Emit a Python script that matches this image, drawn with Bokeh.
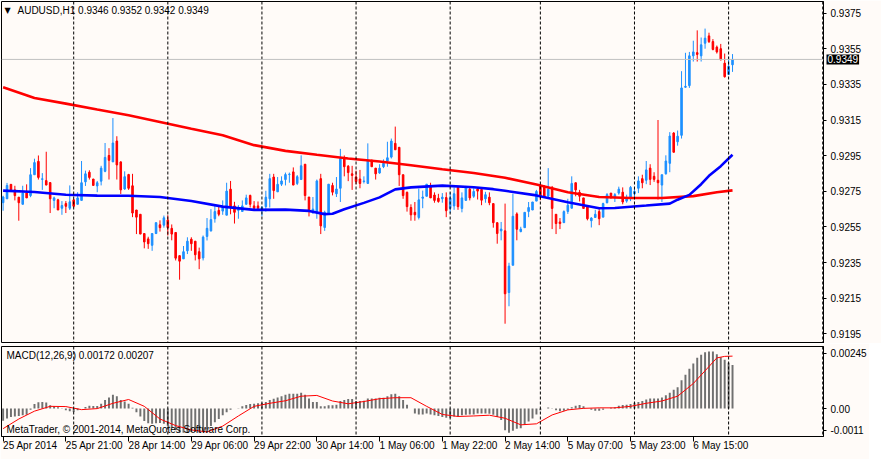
from bokeh.plotting import figure
from bokeh.models import Range1d, FixedTicker, Span, Label, ColumnDataSource, NumeralTickFormatter
from bokeh.layouts import column
from bokeh.embed import file_html
from bokeh.resources import INLINE

# ---------------- data ----------------
symbol = "AUDUSD,H1"
macd_name = "MACD(12,26,9)"
copyright_text = "MetaTrader, \u00a9 2001-2014, MetaQuotes Software Corp."

opens = [0.92686,0.92708,0.92789,0.92758,0.92717,0.92677,0.92740,0.92726,0.92843,0.92918,
         0.92817,0.92810,0.92799,0.92699,0.92702,0.92655,0.92681,0.92655,0.92702,0.92677,
         0.92699,0.92803,0.92857,0.92819,0.92780,0.92807,0.92862,0.92951,0.92915,0.93032,
         0.92915,0.92763,0.92844,0.92781,0.92645,0.92621,0.92513,0.92483,0.92447,0.92513,
         0.92562,0.92560,0.92589,0.92542,0.92519,0.92389,0.92371,0.92416,0.92481,0.92470,
         0.92411,0.92376,0.92497,0.92528,0.92596,0.92643,0.92639,0.92616,0.92762,0.92668,
         0.92643,0.92637,0.92677,0.92727,0.92668,0.92668,0.92646,0.92664,0.92708,0.92830,
         0.92747,0.92790,0.92816,0.92844,0.92859,0.92794,0.92816,0.92902,0.92718,0.92639,
         0.92628,0.92821,0.92547,0.92623,0.92783,0.92736,0.92767,0.92933,0.92891,0.92848,
         0.92830,0.92819,0.92805,0.92794,0.92925,0.92880,0.92853,0.92888,0.92920,0.92942,
         0.93019,0.92997,0.92843,0.92744,0.92659,0.92632,0.92603,0.92711,0.92722,0.92776,
         0.92729,0.92711,0.92708,0.92715,0.92654,0.92668,0.92772,0.92654,0.92699,0.92762,
         0.92722,0.92763,0.92760,0.92708,0.92717,0.92681,0.92574,0.92528,0.92528,0.92182,
         0.92335,0.92623,0.92524,0.92546,0.92637,0.92645,0.92695,0.92785,0.92776,0.92722,
         0.92772,0.92621,0.92578,0.92574,0.92637,0.92655,0.92798,0.92744,0.92713,0.92663,
         0.92585,0.92603,0.92636,0.92605,0.92686,0.92740,0.92713,0.92740,0.92745,0.92695,
         0.92717,0.92736,0.92767,0.92821,0.92812,0.92880,0.92834,0.92812,0.92785,0.92848,
         0.92907,0.93077,0.93028,0.93064,0.93334,0.93343,0.93510,0.93528,0.93510,0.93581,
         0.93622,0.93590,0.93559,0.93550,0.93469,0.93406,0.93460]
highs = [0.92725,0.92797,0.92789,0.92781,0.92717,0.92781,0.92789,0.92880,0.92933,0.92951,
         0.92852,0.92972,0.92799,0.92720,0.92708,0.92695,0.92695,0.92783,0.92706,0.92745,
         0.92920,0.92866,0.92868,0.92819,0.92808,0.92893,0.93021,0.92992,0.93161,0.93059,
         0.92918,0.92862,0.92848,0.92848,0.92645,0.92621,0.92513,0.92495,0.92513,0.92574,
         0.92587,0.92614,0.92616,0.92564,0.92519,0.92389,0.92443,0.92492,0.92492,0.92470,
         0.92434,0.92502,0.92600,0.92650,0.92673,0.92666,0.92699,0.92798,0.92808,0.92691,
         0.92672,0.92699,0.92731,0.92731,0.92695,0.92693,0.92668,0.92753,0.92848,0.92848,
         0.92830,0.92834,0.92855,0.92855,0.92884,0.92841,0.92952,0.92902,0.92718,0.92718,
         0.92816,0.92848,0.92641,0.92790,0.92798,0.92830,0.92988,0.92951,0.92897,0.92893,
         0.92866,0.92870,0.92834,0.93019,0.92925,0.92880,0.92902,0.92929,0.93028,0.93046,
         0.93113,0.92997,0.92843,0.92749,0.92677,0.92690,0.92765,0.92754,0.92790,0.92798,
         0.92744,0.92736,0.92740,0.92744,0.92744,0.92772,0.92776,0.92744,0.92780,0.92776,
         0.92767,0.92772,0.92772,0.92747,0.92744,0.92681,0.92574,0.92578,0.92681,0.92349,
         0.92736,0.92632,0.92551,0.92632,0.92690,0.92690,0.92758,0.92790,0.92785,0.92880,
         0.92780,0.92621,0.92600,0.92643,0.92708,0.92834,0.92798,0.92758,0.92713,0.92663,
         0.92605,0.92646,0.92650,0.92686,0.92740,0.92740,0.92740,0.92776,0.92772,0.92731,
         0.92780,0.92767,0.92834,0.92843,0.92920,0.92902,0.92857,0.93150,0.92843,0.92952,
         0.93082,0.93082,0.93091,0.93424,0.93527,0.93532,0.93595,0.93653,0.93613,0.93663,
         0.93640,0.93604,0.93568,0.93577,0.93523,0.93505,0.93520]
lows = [0.92641,0.92708,0.92758,0.92699,0.92585,0.92677,0.92713,0.92717,0.92843,0.92816,
        0.92758,0.92785,0.92628,0.92655,0.92645,0.92618,0.92628,0.92645,0.92659,0.92677,
        0.92699,0.92780,0.92816,0.92783,0.92745,0.92783,0.92857,0.92816,0.92915,0.92816,
        0.92735,0.92758,0.92758,0.92605,0.92510,0.92510,0.92430,0.92427,0.92416,0.92510,
        0.92524,0.92546,0.92502,0.92475,0.92362,0.92254,0.92371,0.92398,0.92416,0.92362,
        0.92313,0.92362,0.92474,0.92524,0.92574,0.92610,0.92618,0.92616,0.92621,0.92569,
        0.92596,0.92637,0.92677,0.92659,0.92650,0.92650,0.92610,0.92636,0.92659,0.92708,
        0.92747,0.92780,0.92783,0.92798,0.92785,0.92785,0.92816,0.92699,0.92609,0.92623,
        0.92596,0.92510,0.92528,0.92623,0.92727,0.92718,0.92690,0.92834,0.92807,0.92758,
        0.92790,0.92767,0.92794,0.92794,0.92888,0.92816,0.92848,0.92880,0.92888,0.92934,
        0.92983,0.92780,0.92708,0.92636,0.92585,0.92585,0.92592,0.92655,0.92722,0.92713,
        0.92686,0.92686,0.92686,0.92605,0.92628,0.92646,0.92646,0.92632,0.92699,0.92699,
        0.92713,0.92704,0.92672,0.92686,0.92672,0.92546,0.92456,0.92475,0.92007,0.92105,
        0.92335,0.92475,0.92520,0.92546,0.92605,0.92645,0.92695,0.92700,0.92713,0.92722,
        0.92538,0.92510,0.92538,0.92574,0.92623,0.92655,0.92722,0.92693,0.92654,0.92587,
        0.92547,0.92603,0.92560,0.92605,0.92682,0.92708,0.92690,0.92731,0.92677,0.92686,
        0.92695,0.92722,0.92740,0.92767,0.92790,0.92785,0.92803,0.92704,0.92690,0.92844,
        0.92857,0.92969,0.93006,0.93046,0.93330,0.93330,0.93478,0.93478,0.93478,0.93550,
        0.93582,0.93541,0.93523,0.93487,0.93388,0.93402,0.93420]
closes = [0.92718,0.92783,0.92758,0.92726,0.92686,0.92740,0.92713,0.92843,0.92911,0.92828,
          0.92820,0.92785,0.92708,0.92713,0.92645,0.92670,0.92666,0.92691,0.92666,0.92713,
          0.92798,0.92848,0.92828,0.92783,0.92798,0.92880,0.92940,0.92924,0.93021,0.92898,
          0.92758,0.92832,0.92767,0.92628,0.92605,0.92510,0.92466,0.92456,0.92513,0.92574,
          0.92546,0.92601,0.92546,0.92510,0.92375,0.92358,0.92411,0.92470,0.92456,0.92394,
          0.92371,0.92493,0.92542,0.92591,0.92636,0.92621,0.92661,0.92751,0.92661,0.92632,
          0.92654,0.92668,0.92713,0.92677,0.92655,0.92655,0.92659,0.92717,0.92821,0.92754,
          0.92789,0.92808,0.92844,0.92846,0.92785,0.92832,0.92893,0.92726,0.92637,0.92650,
          0.92808,0.92556,0.92632,0.92790,0.92745,0.92763,0.92934,0.92888,0.92855,0.92839,
          0.92805,0.92794,0.92808,0.92920,0.92888,0.92848,0.92880,0.92907,0.92938,0.93032,
          0.92983,0.92843,0.92726,0.92664,0.92618,0.92618,0.92702,0.92718,0.92790,0.92713,
          0.92699,0.92693,0.92717,0.92641,0.92713,0.92736,0.92664,0.92713,0.92772,0.92713,
          0.92749,0.92751,0.92700,0.92731,0.92686,0.92574,0.92513,0.92538,0.92175,0.92330,
          0.92610,0.92537,0.92538,0.92632,0.92659,0.92690,0.92749,0.92722,0.92718,0.92762,
          0.92654,0.92569,0.92569,0.92636,0.92672,0.92794,0.92758,0.92722,0.92654,0.92596,
          0.92600,0.92621,0.92596,0.92681,0.92731,0.92718,0.92731,0.92762,0.92690,0.92713,
          0.92772,0.92749,0.92808,0.92798,0.92870,0.92817,0.92817,0.92798,0.92843,0.92920,
          0.93060,0.92969,0.93059,0.93330,0.93339,0.93510,0.93532,0.93518,0.93572,0.93609,
          0.93590,0.93546,0.93532,0.93487,0.93393,0.93451,0.93490]

# moving averages (sampled bars and values)
ma_red_bars = [0,8,16,24,32,40,48,56,64,72,80,88,96,104,112,120,128,136,144,152,160,168,176,182,186]
ma_red_vals = [0.93334,0.93274,0.93242,0.93209,0.93177,0.93139,0.93101,0.93064,0.93009,0.92977,
               0.92955,0.92934,0.92917,0.92896,0.92874,0.92853,0.92826,0.92788,0.92745,0.92718,
               0.92712,0.92712,0.92723,0.92745,0.92755]
ma_blue_bars = [0,8,16,24,32,40,48,56,64,72,78,82,84,87,92,96,100,104,112,120,125,128,136,144,152,
                156,164,170,172,175,178,180,183,186]
ma_blue_vals = [0.92754,0.92746,0.92731,0.92726,0.92725,0.92718,0.92696,0.92664,0.92646,0.92647,
                0.92640,0.92622,0.92624,0.92649,0.92685,0.92716,0.92761,0.92772,0.92782,0.92773,
                0.92762,0.92753,0.92727,0.92689,0.92655,0.92656,0.92670,0.92681,0.92703,0.92730,
                0.92790,0.92837,0.92891,0.92955]

# MACD main (histogram) per bar
macd_main = [-0.00048,-0.00039,-0.00033,-0.00031,-0.00029,-0.00026,-0.00024,-0.00004,0.00018,0.00025,
             0.00026,0.00024,0.00013,0.00009,0.00005,-0.00001,-0.00006,-0.00010,-0.00013,-0.00006,
             0.00000,0.00006,0.00011,0.00010,0.00010,0.00019,0.00034,0.00044,0.00055,0.00049,
             0.00034,0.00028,0.00019,0.00003,-0.00014,-0.00031,-0.00049,-0.00058,-0.00060,-0.00058,
             -0.00057,-0.00060,-0.00069,-0.00077,-0.00085,-0.00094,-0.00095,-0.00095,-0.00092,-0.00092,
             -0.00094,-0.00092,-0.00082,-0.00069,-0.00054,-0.00041,-0.00026,-0.00014,-0.00004,0.00000,
             0.00001,0.00009,0.00014,0.00018,0.00019,0.00021,0.00023,0.00026,0.00034,0.00039,
             0.00044,0.00049,0.00055,0.00059,0.00059,0.00059,0.00063,0.00055,0.00040,0.00026,
             0.00026,0.00009,0.00009,0.00013,0.00013,0.00015,0.00030,0.00034,0.00038,0.00038,
             0.00030,0.00030,0.00031,0.00040,0.00040,0.00040,0.00043,0.00043,0.00049,0.00057,
             0.00059,0.00049,0.00034,0.00015,0.00000,-0.00019,-0.00023,-0.00023,-0.00019,-0.00023,
             -0.00026,-0.00029,-0.00033,-0.00036,-0.00036,-0.00031,-0.00031,-0.00026,-0.00024,-0.00023,
             -0.00023,-0.00019,-0.00019,-0.00019,-0.00020,-0.00024,-0.00033,-0.00045,-0.00085,-0.00095,
             -0.00087,-0.00079,-0.00077,-0.00064,-0.00051,-0.00039,-0.00023,-0.00006,0.00000,0.00004,
             -0.00001,-0.00006,-0.00010,-0.00008,-0.00004,0.00005,0.00011,0.00014,0.00009,0.00000,
             -0.00004,-0.00008,-0.00008,-0.00004,0.00000,0.00003,0.00005,0.00011,0.00014,0.00015,
             0.00018,0.00023,0.00026,0.00030,0.00036,0.00040,0.00040,0.00040,0.00044,0.00053,
             0.00063,0.00074,0.00084,0.00112,0.00134,0.00157,0.00178,0.00201,0.00212,0.00222,
             0.00225,0.00225,0.00214,0.00203,0.00193,0.00181,0.00172]
signal_bars = [0,4,8,12,16,20,24,28,32,36,40,44,48,52,56,60,64,68,72,76,80,84,88,92,96,100,104,108,
               112,116,120,124,128,132,136,140,144,148,152,156,160,164,168,172,176,180,182,184,186]
signal_vals = [-0.00079,-0.00041,-0.00010,0.00009,0.00008,-0.00004,0.00000,0.00021,0.00036,0.00009,
               -0.00041,-0.00067,-0.00084,-0.00092,-0.00069,-0.00029,0.00009,0.00021,0.00031,0.00049,
               0.00052,0.00030,0.00019,0.00028,0.00039,0.00043,0.00043,0.00009,-0.00023,-0.00031,
               -0.00029,-0.00026,-0.00038,-0.00064,-0.00060,-0.00025,-0.00005,0.00001,0.00003,0.00003,
               0.00009,0.00021,0.00030,0.00049,0.00099,0.00166,0.00200,0.00206,0.00207]

time_label_bars = [0,16,32,48,64,80,96,112,128,144,160,176]
time_labels = ["25 Apr 2014","25 Apr 21:00","28 Apr 14:00","29 Apr 06:00","29 Apr 22:00",
               "30 Apr 14:00","1 May 06:00","1 May 22:00","2 May 14:00","5 May 07:00",
               "5 May 23:00","6 May 15:00"]
day_separator_bars = [18,42,66,90,114,137,161,185,209]
price_ticks = [0.9195,0.9215,0.9235,0.9255,0.9275,0.9295,0.9315,0.9335,0.9355,0.9375]
macd_axis_labels = ["0.00245","0.00","-0.0011"]

# ---------------- styling ----------------
BG = "#FFFBF8"
BULL = "#1E90FF"
BEAR = "#FF0000"
FONT = "Liberation Sans"
FS = "10px"
FW = 822
LB = 1

n = len(opens)
xs = list(range(n))
cols = [BULL if c >= o else BEAR for o, c in zip(opens, closes)]
src = ColumnDataSource(dict(
    x=xs, o=opens, h=highs, l=lows, c=closes,
    top=[max(o, c) for o, c in zip(opens, closes)],
    bot=[min(o, c) for o, c in zip(opens, closes)],
    col=cols))

xr = Range1d(-0.41, 209.2)


def style_right_axis(ax):
    ax.major_tick_out = 3
    ax.major_tick_in = 0
    ax.minor_tick_out = 0
    ax.minor_tick_in = 0
    ax.major_label_standoff = 4
    ax.axis_line_color = "black"
    ax.major_label_text_font = FONT
    ax.major_label_text_font_size = FS
    ax.major_label_text_color = "black"


p1 = figure(frame_width=FW, frame_height=342, x_range=xr, y_range=Range1d(0.91896, 0.93815),
            output_backend="svg", toolbar_location=None, x_axis_location=None,
            y_axis_location="right", background_fill_color=BG, border_fill_color=BG,
            min_border_left=LB, min_border_right=42, min_border_top=1, min_border_bottom=0)
p1.grid.visible = False
p1.outline_line_color = "black"

for b in day_separator_bars:
    p1.add_layout(Span(location=b, dimension="height", line_color="black",
                       line_dash="3 2", line_width=1))
p1.add_layout(Span(location=closes[-1], dimension="width", line_color="#C0C0C0", line_width=1))

p1.segment(x0="x", y0="l", x1="x", y1="h", color="col", line_width=1, source=src)
p1.vbar(x="x", width=0.4, top="top", bottom="bot", fill_color="col", line_color="col",
        line_width=1, source=src)
p1.line(ma_red_bars, ma_red_vals, color="#FF0000", line_width=2.6)
p1.line(ma_blue_bars, ma_blue_vals, color="#0000FF", line_width=2.6)

ya = p1.yaxis[0]
ya.ticker = FixedTicker(ticks=price_ticks)
ya.formatter = NumeralTickFormatter(format="0.0000")
style_right_axis(ya)

# current price box in the price scale
p1.add_layout(Label(x=LB + FW + 3, x_units="canvas", y=closes[-1], text=f"{closes[-1]:.4f}",
                    text_color="white", background_fill_color="black",
                    text_baseline="middle", text_align="left", text_font=FONT,
                    text_font_size=FS, padding=1), "right")

p1.add_layout(Label(x=xr.start, y=0.93815, x_offset=3, y_offset=-9, text="\u25bc",
                    text_baseline="middle", text_font="DejaVu Sans", text_font_size="8px",
                    text_color="black"))
p1.add_layout(Label(x=xr.start, y=0.93815, x_offset=16, y_offset=-9,
                    text=f"{symbol} {opens[-1]:.4f} {highs[-1]:.4f} {lows[-1]:.4f} {closes[-1]:.4f}",
                    text_baseline="middle", text_font=FONT, text_font_size=FS, text_color="black"))

# ---------------- MACD panel ----------------
macd_top, macd_bot = 0.00245, -0.0011
p2 = figure(frame_width=FW, frame_height=90, x_range=xr, y_range=Range1d(macd_bot, macd_top),
            output_backend="svg", toolbar_location=None, y_axis_location="right",
            background_fill_color=BG, border_fill_color=BG,
            min_border_left=LB, min_border_right=42, min_border_top=3, min_border_bottom=0)
p2.grid.visible = False
p2.outline_line_color = "black"

for b in day_separator_bars:
    p2.add_layout(Span(location=b, dimension="height", line_color="black",
                       line_dash="3 2", line_width=1))

p2.vbar(x=xs, width=0.5, top=macd_main, bottom=0, fill_color="#707070", line_color=None)
p2.line(signal_bars, signal_vals, color="#FF0000", line_width=1)

# MetaTrader draws the extreme scale labels just inside the panel
span = macd_top - macd_bot
tick_pos = [macd_top - span * 0.075, 0.0, macd_bot + span * 0.07]
ya2 = p2.yaxis[0]
ya2.ticker = FixedTicker(ticks=tick_pos)
ya2.major_label_overrides = {t: s for t, s in zip(tick_pos, macd_axis_labels)}
style_right_axis(ya2)

xa = p2.xaxis[0]
xa.ticker = FixedTicker(ticks=time_label_bars)
xa.major_label_overrides = {b: s for b, s in zip(time_label_bars, time_labels)}
xa.major_label_orientation = -0.0001   # tiny angle -> labels start at the tick (left aligned)
xa.major_tick_out = 5
xa.major_tick_in = 0
xa.minor_tick_out = 0
xa.minor_tick_in = 0
xa.major_label_standoff = 4
xa.axis_line_color = "black"
xa.major_label_text_font = FONT
xa.major_label_text_font_size = FS
xa.major_label_text_color = "black"

p2.add_layout(Label(x=xr.start, y=macd_top, x_offset=5, y_offset=-9,
                    text=f"{macd_name} {macd_main[-1]:.5f} {signal_vals[-1]:.5f}",
                    text_baseline="middle", text_font=FONT, text_font_size=FS, text_color="black"))
p2.add_layout(Label(x=xr.start, y=macd_bot, x_offset=5, y_offset=7, text=copyright_text,
                    text_baseline="middle", text_font=FONT, text_font_size=FS, text_color="black"))

layout = column(p1, p2, spacing=0)
open("out.html", "w").write(file_html(layout, INLINE))
